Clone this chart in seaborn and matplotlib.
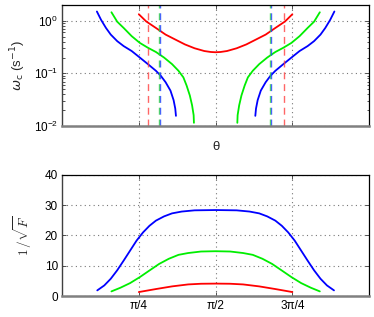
import numpy as np
import pandas as pd
import matplotlib
matplotlib.use("Agg")
import matplotlib.pyplot as plt
from matplotlib.ticker import LogLocator, NullFormatter
import seaborn as sns


# values
# top panel: omega_c vs theta (log scale), left branch then right branch
blue_top_theta = [0.356, 0.399, 0.449, 0.498, 0.564, 0.630, 0.712, 0.795, 0.878, 0.960,
                  1.010, 1.059, 1.109, 1.141, 1.158, 1.165,
                  1.977, 1.984, 2.001, 2.033, 2.083, 2.132, 2.182, 2.264, 2.347, 2.430,
                  2.512, 2.578, 2.644, 2.693, 2.743, 2.786]
blue_top_omega = [1.50, 1.04, 0.73, 0.546, 0.41, 0.33, 0.266, 0.20, 0.15, 0.112,
                  0.090, 0.068, 0.047, 0.031, 0.0214, 0.0156,
                  0.0156, 0.0214, 0.031, 0.047, 0.068, 0.090, 0.112, 0.15, 0.20, 0.266,
                  0.33, 0.41, 0.546, 0.73, 1.04, 1.50]
green_top_theta = [0.505, 0.564, 0.630, 0.712, 0.795, 0.878, 0.960, 1.043, 1.125, 1.191,
                   1.241, 1.274, 1.307, 1.330, 1.346, 1.349,
                   1.793, 1.796, 1.812, 1.835, 1.868, 1.901, 1.951, 2.017, 2.099, 2.182,
                   2.264, 2.347, 2.430, 2.512, 2.578, 2.637]
green_top_omega = [1.45, 0.96, 0.73, 0.51, 0.38, 0.307, 0.255, 0.20, 0.15, 0.112,
                   0.084, 0.0587, 0.038, 0.0248, 0.0161, 0.0115,
                   0.0115, 0.0161, 0.0248, 0.038, 0.0587, 0.084, 0.112, 0.15, 0.20, 0.255,
                   0.307, 0.38, 0.51, 0.73, 0.96, 1.45]
red_top_theta = [0.785, 0.861, 0.960, 1.059, 1.158, 1.257, 1.356, 1.455, 1.521, 1.571,
                 1.621, 1.687, 1.786, 1.885, 1.984, 2.083, 2.182, 2.281, 2.356]
red_top_omega = [1.33, 0.97, 0.73, 0.546, 0.44, 0.355, 0.30, 0.266, 0.255, 0.252,
                 0.255, 0.266, 0.30, 0.355, 0.44, 0.546, 0.73, 0.97, 1.33]

# dashed vertical markers
red_vlines = [0.874, 2.267]
blue_vlines = [1.000, 2.136]
green_vlines = [0.992, 2.126]

# bottom panel: 1/sqrt(F) vs theta
blue_bot_theta = [0.360, 0.432, 0.498, 0.564, 0.630, 0.696, 0.762, 0.828, 0.894, 0.960,
                  1.043, 1.125, 1.224, 1.356, 1.571,
                  1.786, 1.918, 2.017, 2.099, 2.182, 2.248, 2.314, 2.380, 2.446, 2.512,
                  2.578, 2.644, 2.710, 2.782]
blue_bot_val = [1.86, 3.5, 5.7, 8.5, 11.7, 15.0, 18.3, 21.0, 23.2, 24.9,
                26.3, 27.3, 27.9, 28.3, 28.4,
                28.3, 27.9, 27.3, 26.3, 24.9, 23.2, 21.0, 18.3, 15.0, 11.7,
                8.5, 5.7, 3.5, 1.86]
green_bot_theta = [0.505, 0.597, 0.696, 0.795, 0.894, 0.993, 1.092, 1.191, 1.290, 1.422, 1.571,
                   1.720, 1.852, 1.951, 2.050, 2.149, 2.248, 2.347, 2.446, 2.545, 2.637]
green_bot_val = [1.53, 2.74, 4.27, 6.24, 8.43, 10.6, 12.3, 13.6, 14.2, 14.7, 14.8,
                 14.7, 14.2, 13.6, 12.3, 10.6, 8.43, 6.24, 4.27, 2.74, 1.53]
red_bot_theta = [0.785, 0.960, 1.125, 1.290, 1.422, 1.571, 1.720, 1.852, 2.017, 2.182, 2.356]
red_bot_val = [1.31, 2.3, 3.18, 3.83, 4.05, 4.1, 4.05, 3.83, 3.18, 2.3, 1.31]

x_ticks = [np.pi / 4, np.pi / 2, 3 * np.pi / 4]
x_ticklabels = ["π/4", "π/2", "3π/4"]
bot_yticks = [0, 10, 20, 30, 40]


sns.set_style("white")
plt.rcParams["font.family"] = ["Liberation Sans", "DejaVu Sans"]
plt.rcParams["font.size"] = 8.5

fig = plt.figure(figsize=(3.74, 3.17), dpi=100)
ax1 = fig.add_axes([0.166, 0.6025, 0.821, 0.382])
ax2 = fig.add_axes([0.166, 0.0662, 0.821, 0.382])

colors = {"blue": "#0000ff", "green": "#00ee00", "red": "#ff0000"}


def split_curve(theta, vals):
    # break a curve into its left and right branches where it jumps across the gap
    t = np.array(theta)
    v = np.array(vals)
    gaps = np.where(np.diff(t) > 0.3)[0]
    if len(gaps) == 0:
        return [(t, v)]
    i = gaps[0] + 1
    return [(t[:i], v[:i]), (t[i:], v[i:])]


top_series = [("blue", blue_top_theta, blue_top_omega),
              ("green", green_top_theta, green_top_omega),
              ("red", red_top_theta, red_top_omega)]
for name, th, om in top_series:
    for t, v in split_curve(th, om):
        sns.lineplot(x=t, y=v, ax=ax1, color=colors[name], lw=1.3, sort=False,
                     solid_joinstyle="round")

dash = (0, (5, 3.5))
for x in red_vlines:
    ax1.axvline(x, color="#ff4040", lw=1.0, ls=dash, alpha=0.8)
for x in green_vlines:
    ax1.axvline(x, color="#30e030", lw=1.0, ls=dash, alpha=0.8)
for x in blue_vlines:
    ax1.axvline(x, color="#2040ff", lw=1.0, ls=dash, alpha=0.8)

bot_series = [("blue", blue_bot_theta, blue_bot_val),
              ("green", green_bot_theta, green_bot_val),
              ("red", red_bot_theta, red_bot_val)]
for name, th, vv in bot_series:
    sns.lineplot(x=th, y=vv, ax=ax2, color=colors[name], lw=1.3, sort=False,
                 solid_joinstyle="round")


# axes styling (matlab-ish boxes with inward ticks)
for ax in (ax1, ax2):
    ax.set_xlim(0, np.pi)
    ax.set_xticks(x_ticks)
    ax.grid(True, which="major", color="#777777", ls=(0, (1, 3)), lw=0.8)
    ax.tick_params(which="both", direction="in", bottom=True, left=True, top=True, right=True,
                   length=3, width=0.6, colors="#333333", labelcolor="black", pad=3)
    for s in ("top", "right"):
        ax.spines[s].set_color("black")
        ax.spines[s].set_linewidth(0.9)
    ax.spines["left"].set_color("#404040")
    ax.spines["left"].set_linewidth(1.0)
    ax.spines["bottom"].set_color("#808080")
    ax.spines["bottom"].set_linewidth(1.8)

ax1.set_yscale("log")
ax1.set_ylim(0.01, 2.0)
ax1.yaxis.set_major_locator(LogLocator(base=10, numticks=5))
ax1.yaxis.set_minor_locator(LogLocator(base=10, subs=np.arange(2, 10), numticks=20))
ax1.yaxis.set_minor_formatter(NullFormatter())
ax1.tick_params(which="minor", length=1.8)
ax1.set_xticklabels([])
ax1.set_xlabel("θ", fontsize=9.5, labelpad=8)
ax1.set_ylabel(r"$\omega_\mathrm{c}$ (s$^{-1}$)", fontsize=9.5, labelpad=4)

ax2.set_ylim(0, 40)
ax2.set_yticks(bot_yticks)
ax2.set_xticklabels(x_ticklabels)
ax2.set_ylabel(r"$1\,/\sqrt{F}$", fontsize=9.5, math_fontfamily="cm", labelpad=8)

fig.savefig("out.png", dpi=100)
